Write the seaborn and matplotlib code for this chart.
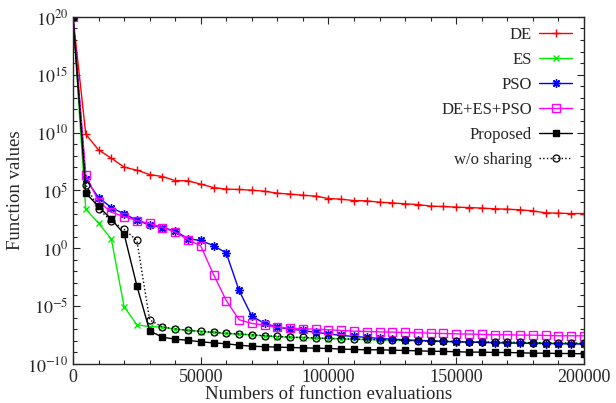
import numpy as np
import pandas as pd
import matplotlib
matplotlib.use("Agg")
import matplotlib.pyplot as plt
import seaborn as sns
from matplotlib.ticker import FixedLocator, NullFormatter

# evaluations (every 5000) and log10 of function value
evals = list(range(0, 200001, 5000))

de_exp = [20, 9.86, 8.5, 7.79, 7.01, 6.75, 6.37, 6.2, 5.85, 5.83,
          5.54, 5.25, 5.11, 5.08, 5.02, 4.93, 4.76, 4.68, 4.59, 4.50,
          4.30, 4.24, 4.12, 4.10, 3.98, 3.92, 3.84, 3.78, 3.64, 3.61,
          3.55, 3.52, 3.47, 3.41, 3.38, 3.32, 3.23, 3.06, 3.03, 3.00, 3.00]
es_exp = [20, 3.38, 2.17, 0.79, -5.04, -6.62, -6.77, -6.82, -7.0, -7.08,
          -7.2, -7.28, -7.37, -7.42, -7.5, -7.58, -7.64, -7.70, -7.73, -7.78,
          -7.81, -7.84, -7.87, -7.90, -7.93, -7.95, -7.98, -8.01, -8.04, -8.06,
          -8.08, -8.10, -8.12, -8.13, -8.15, -8.16, -8.18, -8.19, -8.21, -8.22, -8.24]
pso_exp = [20, 5.97, 4.38, 3.52, 2.97, 2.43, 2.0, 1.79, 1.5, 0.82,
           0.67, 0.23, -0.42, -3.65, -5.87, -6.5, -6.82, -7.0, -7.11, -7.28,
           -7.40, -7.54, -7.63, -7.71, -7.80, -7.86, -7.92, -7.97, -8.0, -8.06,
           -8.09, -8.12, -8.14, -8.18, -8.2, -8.21, -8.23, -8.24, -8.26, -8.27, -8.29]
mix_exp = [20, 6.34, 4.04, 3.12, 2.74, 2.39, 2.15, 1.79, 1.40, 0.75,
           0.2, -2.27, -4.52, -6.18, -6.5, -6.65, -6.82, -6.91, -6.97, -7.0,
           -7.05, -7.11, -7.17, -7.2, -7.23, -7.25, -7.28, -7.31, -7.34, -7.37,
           -7.40, -7.42, -7.45, -7.48, -7.48, -7.51, -7.51, -7.54, -7.57, -7.57, -7.57]
prop_exp = [20, 4.77, 3.61, 2.51, 1.24, -3.25, -7.14, -7.69, -7.86, -7.96,
            -8.09, -8.18, -8.26, -8.38, -8.47, -8.51, -8.55, -8.58, -8.61, -8.64,
            -8.66, -8.72, -8.75, -8.78, -8.78, -8.81, -8.84, -8.87, -8.90, -8.92,
            -8.95, -8.98, -8.98, -9.01, -9.01, -9.04, -9.07, -9.07, -9.10, -9.10, -9.13]
noshare_exp = [20, 5.51, 3.38, 2.37, 1.65, 0.67, -6.19, -6.82, -6.97, -7.11,
               -7.18, -7.26, -7.35, -7.41, -7.48, -7.56, -7.62, -7.68, -7.71, -7.76,
               -7.79, -7.82, -7.85, -7.88, -7.91, -7.93, -7.96, -7.99, -8.02, -8.04,
               -8.06, -8.08, -8.10, -8.11, -8.13, -8.14, -8.16, -8.17, -8.19, -8.20, -8.22]

series = ["DE", "ES", "PSO", "DE+ES+PSO", "Proposed", "w/o sharing"]
exps = [de_exp, es_exp, pso_exp, mix_exp, prop_exp, noshare_exp]

sns.set_style("ticks")
plt.rcParams["font.family"] = ["Liberation Serif", "DejaVu Serif"]
plt.rcParams["mathtext.fontset"] = "stix"

fig = plt.figure(figsize=(6.16, 4.03), dpi=100)
ax = fig.add_axes([0.1185, 0.097, 0.8295, 0.861])

styles = {
    "DE": dict(color="#ff0000", marker="+", ms=6, mew=1.0, ls="-"),
    "ES": dict(color="#00ee00", marker="x", ms=5, mew=1.0, ls="-"),
    "PSO": dict(color="#0000ff", marker=(8, 2, 0), ms=6, mew=1.0, ls="-"),
    "DE+ES+PSO": dict(color="#ff00ff", marker="s", ms=5.5, mew=1.0, mfc="none", ls="-"),
    "Proposed": dict(color="#000000", marker="s", ms=4.5, mew=1.0, ls="-"),
    "w/o sharing": dict(color="#000000", marker="o", ms=5, mew=0.9, mfc="none", ls=":"),
}

for name, e in zip(series, exps):
    df = pd.DataFrame({"evals": evals, "value": 10.0 ** np.array(e)})
    st = styles[name]
    sns.lineplot(data=df, x="evals", y="value", ax=ax, label=name,
                 color=st["color"], marker=st["marker"], markersize=st["ms"],
                 markeredgewidth=st["mew"], markeredgecolor=st["color"],
                 markerfacecolor=st.get("mfc", st["color"]),
                 linestyle=st["ls"], linewidth=1.0)

ax.set_yscale("log")
ax.set_xlim(0, 200000)
ax.set_ylim(1e-10, 1e20)
ax.set_xticks([0, 50000, 100000, 150000, 200000])
ax.set_xticklabels(["0", "50000", "100000", "150000", "200000"])
ax.xaxis.set_minor_locator(FixedLocator(list(range(0, 200001, 10000))))
major_y = [10.0 ** k for k in range(-10, 21, 5)]
ax.yaxis.set_major_locator(FixedLocator(major_y))
ax.set_yticklabels([r"$10^{%d}$" % k for k in range(-10, 21, 5)])
ax.yaxis.set_minor_locator(FixedLocator([10.0 ** k for k in range(-10, 21)]))
ax.yaxis.set_minor_formatter(NullFormatter())

ax.tick_params(which="both", direction="in", top=True, right=True, labelsize=13)
ax.tick_params(which="major", length=5, width=0.8)
ax.tick_params(which="minor", length=3, width=0.8)
ax.tick_params(axis="x", pad=4)
for sp in ax.spines.values():
    sp.set_linewidth(1.0)

ax.set_xlabel("Numbers of function evaluations", fontsize=13.5)
ax.xaxis.set_label_coords(0.5, -0.063)
ax.set_ylabel("Function values", fontsize=13.5, labelpad=2)

ax.legend(loc="upper right", markerfirst=False, frameon=False, fontsize=12,
          handlelength=1.95, handletextpad=0.45, labelspacing=0.54,
          borderaxespad=0.3, bbox_to_anchor=(0.999, 1.006))

fig.savefig("out.png", dpi=100)
